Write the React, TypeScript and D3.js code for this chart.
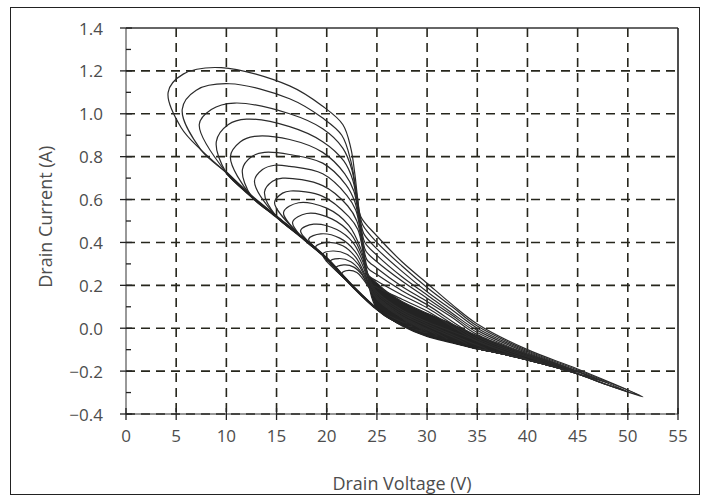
import * as d3 from "d3";

type Pt = [number, number];

// axis ticks
const xTicks = [0, 5, 10, 15, 20, 25, 30, 35, 40, 45, 50, 55];
const yTicks = [-0.4, -0.2, 0.0, 0.2, 0.4, 0.6, 0.8, 1.0, 1.2, 1.4];
const yMinorTicks = [-0.3, -0.1, 0.1, 0.3, 0.5, 0.7, 0.9, 1.1, 1.3];

// shared lower edge of all loops, from the tip back up to the left (V, A)
const envelope: Pt[] = [
  [51.5, -0.32], [48, -0.265], [45, -0.213], [42.5, -0.178], [40, -0.148],
  [37.5, -0.12], [35, -0.095], [32.5, -0.065], [30, -0.035], [27.5, 0.015],
  [25, 0.09], [22.5, 0.2], [20, 0.325], [17.5, 0.425], [15, 0.52],
  [12.5, 0.615], [10, 0.725], [7.5, 0.83], [5.5, 0.935],
];

// top edge of the dense, overlapping bundle right of the knee
const bandTop: Pt[] = [
  [24.2, 0.24], [25, 0.21], [26, 0.17], [27.5, 0.125], [30, 0.07],
  [32.5, 0.02], [35, -0.035], [37.5, -0.08], [40, -0.122], [42.5, -0.16],
  [45, -0.205],
];

// upper part of each loop: left end, top arc, right side, end of tail
const loop0: Pt[] = [[4.2, 1.1], [5.7, 1.185], [9.5, 1.215], [16.3, 1.13], [19.6, 1.035], [21.6, 0.95], [22.4, 0.84], [22.8, 0.72], [23.1, 0.6], [23.4, 0.52], [25, 0.43], [27.5, 0.31], [30, 0.21], [32.5, 0.11], [35, 0.02], [40, -0.1], [45, -0.19], [51.5, -0.32]];
const loop1: Pt[] = [[5.6, 1.02], [7.0, 1.11], [10.3, 1.14], [16.3, 1.07], [19.6, 0.98], [21.5, 0.9], [22.4, 0.78], [22.9, 0.65], [23.3, 0.53], [23.6, 0.48], [25, 0.4], [27.5, 0.29], [30, 0.19], [32.5, 0.1], [35, 0.01], [40, -0.105], [45, -0.195], [51, -0.31]];
const loop2: Pt[] = [[7.3, 0.95], [8.5, 1.02], [10.8, 1.05], [16.3, 1.0], [19.6, 0.93], [21.6, 0.84], [22.5, 0.74], [23.0, 0.6], [23.4, 0.49], [23.7, 0.44], [25, 0.37], [27.5, 0.265], [30, 0.17], [32.5, 0.085], [35, 0.0], [40, -0.11], [45, -0.2], [50, -0.295]];
const loop3: Pt[] = [[9.0, 0.87], [10.2, 0.95], [12, 0.975], [16.3, 0.94], [19.6, 0.87], [21.7, 0.78], [22.6, 0.69], [23.1, 0.56], [23.5, 0.45], [23.8, 0.4], [25, 0.34], [27.5, 0.24], [30, 0.155], [32.5, 0.07], [35, -0.01], [40, -0.115], [48, -0.255]];
const loop4: Pt[] = [[10.4, 0.8], [11.4, 0.87], [12.8, 0.895], [16.3, 0.88], [19.6, 0.82], [21.8, 0.72], [22.7, 0.64], [23.2, 0.52], [23.6, 0.41], [23.9, 0.36], [25, 0.31], [27.5, 0.22], [30, 0.14], [32.5, 0.06], [35, -0.02], [40, -0.12], [46.5, -0.23]];
const loop5: Pt[] = [[11.6, 0.74], [12.5, 0.8], [13.8, 0.82], [16.3, 0.81], [19.6, 0.77], [21.9, 0.67], [22.8, 0.59], [23.3, 0.48], [23.7, 0.37], [24, 0.32], [25, 0.28], [27.5, 0.195], [30, 0.125], [32.5, 0.05], [35, -0.03], [44.5, -0.2]];
const loop6: Pt[] = [[12.8, 0.685], [13.6, 0.74], [14.8, 0.76], [16.3, 0.755], [19.6, 0.72], [22, 0.62], [22.9, 0.55], [23.4, 0.44], [23.8, 0.33], [24.1, 0.28], [25, 0.25], [27.5, 0.175], [30, 0.11], [35, -0.04], [43, -0.18]];
const loop7: Pt[] = [[13.8, 0.635], [14.6, 0.685], [15.6, 0.7], [19.6, 0.665], [22.1, 0.57], [23, 0.5], [23.5, 0.4], [23.9, 0.29], [24.2, 0.245], [25, 0.22], [27.5, 0.155], [30, 0.095], [35, -0.05], [41.5, -0.16]];
const loop8: Pt[] = [[14.8, 0.585], [15.6, 0.63], [16.4, 0.64], [19.6, 0.615], [22.2, 0.52], [23.1, 0.46], [23.6, 0.36], [24, 0.26], [24.3, 0.21], [25, 0.19], [27.5, 0.135], [30, 0.08], [35, -0.06], [40, -0.145]];
const loop9: Pt[] = [[15.7, 0.54], [17.2, 0.585], [20, 0.56], [22.2, 0.48], [23.4, 0.37], [24.1, 0.25], [25, 0.17], [27.5, 0.085], [30, 0.03], [35, -0.06], [38, -0.12]];
const loop10: Pt[] = [[16.6, 0.495], [18, 0.535], [20.5, 0.51], [22.4, 0.44], [23.5, 0.34], [24.1, 0.24], [25, 0.16], [27.5, 0.075], [30, 0.02], [34, -0.06], [36, -0.1]];
const loop11: Pt[] = [[17.4, 0.455], [18.7, 0.485], [21, 0.46], [22.6, 0.4], [23.6, 0.31], [24.2, 0.22], [25, 0.15], [27.5, 0.065], [30, 0.01], [34, -0.075]];
const loop12: Pt[] = [[18.2, 0.415], [19.4, 0.44], [21.3, 0.42], [22.8, 0.36], [23.7, 0.28], [24.2, 0.2], [25, 0.14], [27.5, 0.055], [32, -0.05]];
const loop13: Pt[] = [[18.9, 0.38], [20, 0.4], [21.6, 0.385], [22.9, 0.33], [23.8, 0.25], [24.3, 0.19], [25, 0.135], [27.5, 0.05], [31, -0.035]];
const loop14: Pt[] = [[19.6, 0.345], [20.6, 0.36], [22, 0.345], [23.1, 0.3], [23.9, 0.23], [24.5, 0.17], [26, 0.1], [30, -0.02]];
const loop15: Pt[] = [[20.3, 0.31], [21.2, 0.325], [22.4, 0.31], [23.3, 0.27], [24, 0.21], [24.6, 0.16], [26, 0.095], [29.5, -0.01]];
const loop16: Pt[] = [[20.9, 0.28], [21.7, 0.295], [22.7, 0.285], [23.5, 0.25], [24.1, 0.2], [24.7, 0.155], [28.5, 0.01]];
const loop17: Pt[] = [[21.5, 0.255], [22.2, 0.27], [23, 0.26], [23.6, 0.23], [24.2, 0.19], [24.8, 0.15], [28, 0.025]];

const loops = [loop0, loop1, loop2, loop3, loop4, loop5, loop6, loop7, loop8, loop9, loop10, loop11, loop12, loop13, loop14, loop15, loop16, loop17];

const W = 704;
const H = 500;
const MARGIN = { top: 28, left: 126, right: 26, bottom: 86 };
const FONT = "'Open Sans', 'Noto Sans', sans-serif";
const TEXT = "#4d4d4d";
const GRID = "#26261c";

function closeLoop(upper: Pt[]): Pt[] {
  const left = upper[0][0];
  const end = upper[upper.length - 1][0];
  const back = envelope.filter(([v]) => v > left + 0.8 && v < end - 0.8);
  return [...upper, ...back];
}

export default function App() {
  const x = d3.scaleLinear().domain([0, 55]).range([MARGIN.left, W - MARGIN.right]);
  const y = d3.scaleLinear().domain([-0.4, 1.4]).range([H - MARGIN.bottom, MARGIN.top]);
  const fmt = d3.format(".1f");

  const loopPath = d3
    .line<Pt>()
    .x((d) => x(d[0]))
    .y((d) => y(d[1]))
    .curve(d3.curveCatmullRomClosed.alpha(0.5));

  const edgePath = d3
    .line<Pt>()
    .x((d) => x(d[0]))
    .y((d) => y(d[1]))
    .curve(d3.curveCatmullRom.alpha(0.5));

  const bandLo = bandTop[0][0];
  const bandHi = bandTop[bandTop.length - 1][0];
  const band = [...bandTop, ...envelope.filter(([v]) => v >= bandLo && v < bandHi)];

  const x0 = x(0), x1 = x(55), yTop = y(1.4), yBot = y(-0.4);

  return (
    <svg
      width={W}
      height={H}
      viewBox={`0 0 ${W} ${H}`}
      style={{ position: "absolute", left: 0, top: 0, background: "#fff" }}
    >
      <rect x={10.5} y={7.5} width={689} height={487} fill="#fff" stroke="#222" strokeWidth={1} />

      {/* dashed grid */}
      <g stroke={GRID} strokeWidth={1.6} strokeDasharray="9,6">
        {xTicks.filter((t) => t > 0 && t < 55).map((t) => (
          <line key={"vx" + t} x1={x(t)} x2={x(t)} y1={yTop} y2={yBot} />
        ))}
        {yTicks.filter((t) => t < 1.4).map((t) => (
          <line key={"hy" + t} x1={x0} x2={x1} y1={y(t)} y2={y(t)} />
        ))}
      </g>

      {/* frame */}
      <line x1={x0} x2={x1} y1={yTop} y2={yTop} stroke="#333" strokeWidth={1.5} />
      <line x1={x1} x2={x1} y1={yTop} y2={yBot} stroke="#222" strokeWidth={1.6} />
      <line x1={x0} x2={x1} y1={yBot} y2={yBot} stroke="#333" strokeWidth={1} />
      <line x1={x0} x2={x0} y1={yTop} y2={yBot} stroke="#333" strokeWidth={1} />

      {/* ticks */}
      <g stroke="#222" strokeWidth={1.3}>
        {yTicks.map((t) => (
          <line key={"ty" + t} x1={x0 - 6} x2={x0 + 6} y1={y(t)} y2={y(t)} />
        ))}
        {yMinorTicks.map((t) => (
          <line key={"tm" + t} x1={x0} x2={x0 + 5} y1={y(t)} y2={y(t)} />
        ))}
        {xTicks.map((t) => (
          <line key={"tx" + t} x1={x(t)} x2={x(t)} y1={yBot - 6} y2={yBot + 6} />
        ))}
      </g>

      {/* dense overlap of the loops right of the knee */}
      <path d={loopPath(band) ?? ""} fill="#232323" stroke="#232323" strokeWidth={1.2} />

      {/* loops */}
      <g fill="none" stroke="#2b2b2b" strokeWidth={1.2}>
        {loops.map((l, i) => (
          <path key={i} d={loopPath(closeLoop(l)) ?? ""} />
        ))}
      </g>
      <path
        d={edgePath(envelope.filter(([v]) => v > 9 && v < 36)) ?? ""}
        fill="none"
        stroke="#222"
        strokeWidth={2.6}
      />

      {/* tick labels */}
      <g fontFamily={FONT} fontSize={17} fill={TEXT}>
        {yTicks.map((t) => (
          <text key={"ly" + t} x={x0 - 23} y={y(t)} textAnchor="end" dominantBaseline="central">
            {fmt(t)}
          </text>
        ))}
        {xTicks.map((t) => (
          <text key={"lx" + t} x={x(t)} y={yBot + 28} textAnchor="middle">
            {t}
          </text>
        ))}
      </g>

      <text x={x(27.5)} y={490} textAnchor="middle" fontFamily={FONT} fontSize={18} fill={TEXT}>
        Drain Voltage (V)
      </text>
      <text
        transform={`translate(52,${y(0.52)}) rotate(-90)`}
        textAnchor="middle"
        fontFamily={FONT}
        fontSize={18}
        fill={TEXT}
      >
        Drain Current (A)
      </text>
    </svg>
  );
}
